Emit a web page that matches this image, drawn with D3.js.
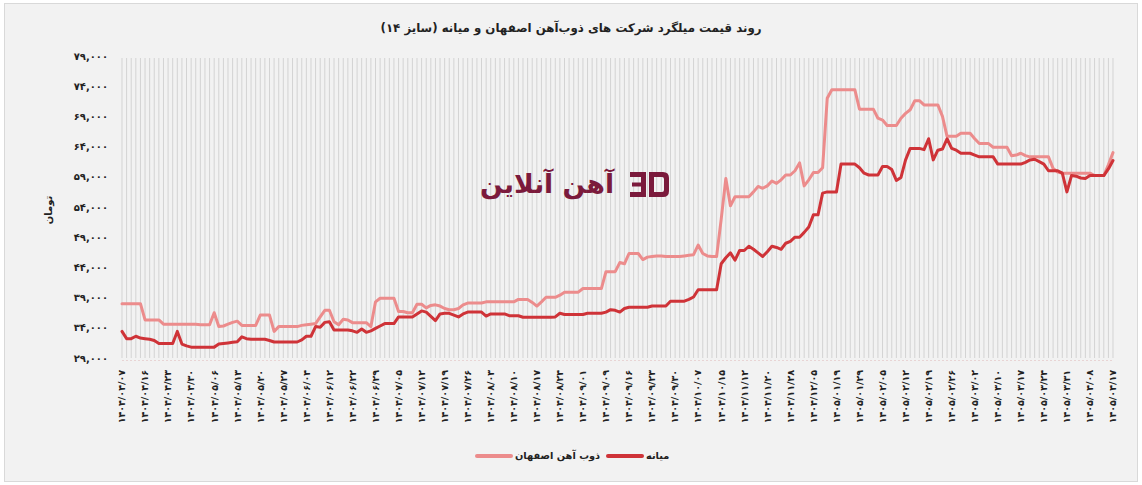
<!doctype html>
<html lang="fa">
<head>
	<meta charset="UTF-8">
	<title>روند قیمت میلگرد</title>
	<script src="https://d3js.org/d3.v7.min.js"></script>
	<style>
		body {
			margin: 0;
			padding: 0;
			background: #fff;
			font-family: "DejaVu Sans", sans-serif;
		}
	</style>
</head>
<body>
	<div id="chart"></div>

	<script>
		// Tick labels (every 5th category)
		const tickLabels = [
			'1404/04/07','1404/04/16','1404/04/23','1404/04/30','1404/05/06','1404/05/13','1404/05/20','1404/05/27',
			'1404/06/04','1404/06/12','1404/06/22','1404/06/29','1404/07/05','1404/07/12','1404/07/19','1404/07/26',
			'1404/08/03','1404/08/10','1404/08/17','1404/08/24','1404/09/01','1404/09/09','1404/09/16','1404/09/23',
			'1404/09/30','1404/10/07','1404/10/15','1404/11/12','1404/11/20','1404/11/28','1404/12/05','1405/01/19',
			'1405/01/29','1405/02/05','1405/02/12','1405/02/19','1405/02/26','1405/03/02','1405/03/10','1405/03/17',
			'1405/03/24','1405/03/31','1405/04/08','1405/04/17'
		];
		const tickStep = 5;

		// ذوب آهن اصفهان
		const esfahan = [
			38000,38000,38000,38000,38000,35300,35300,35300,35300,34600,
			34600,34600,34600,34600,34600,34600,34600,34500,34500,34500,
			36500,34200,34300,34600,34900,35100,34400,34400,34400,34400,
			36100,36100,36100,33400,34200,34200,34200,34200,34200,34400,
			34500,34600,34700,35800,36900,36900,35000,34500,35400,35300,
			34850,34850,34850,34850,34200,38300,38900,38900,38900,38900,
			36700,36700,36500,36500,37900,37900,37300,37700,37800,37600,
			37200,37000,37000,37200,37800,38100,38100,38100,38100,38300,
			38300,38300,38300,38300,38300,38300,38700,38700,38700,38200,
			37600,38300,39050,39050,39050,39400,39900,39900,39900,39900,
			40500,40500,40500,40500,40500,43300,43300,43300,44800,44600,
			46300,46300,46300,45300,45700,45800,45900,45900,45800,45800,
			45800,45800,45900,46000,46100,47700,46300,45900,45800,45800,
			52000,58700,54200,55700,55700,55700,55700,56500,57400,57100,
			57500,58300,57900,58500,59300,59300,60000,61300,57500,58500,
			59700,59700,60500,72000,73400,73400,73400,73400,73400,73400,
			70200,70200,70200,70200,68700,68400,67500,67500,67500,68700,
			69500,70100,71600,71600,70900,70900,70900,70900,69000,65700,
			65700,65700,66200,66200,66200,65300,64500,64500,64500,63900,
			63900,63900,63900,62500,62600,62900,62500,62300,62300,62300,
			62300,62300,60400,59800,59600,59600,59600,59600,59600,59600,
			59600,59200,59200,59200,61000,63000
		];

		// میانه
		const mianeh = [
			33400,32200,32200,32600,32300,32200,32100,31900,31400,31400,
			31400,31400,33400,31300,31000,30800,30800,30800,30800,30800,
			30800,31300,31400,31500,31600,31700,32500,32200,32100,32100,
			32100,32100,31900,31650,31650,31650,31650,31650,31650,32000,
			32600,32600,34200,34100,34900,35000,33650,33650,33650,33650,
			33500,33250,33800,33250,33500,33900,34300,34700,34700,34700,
			35800,35800,35800,35800,36300,36800,36600,35900,35200,36300,
			36400,36400,36100,35800,36300,36600,36600,36600,36600,35950,
			36300,36300,36300,36300,36000,36000,36000,35750,35750,35750,
			35750,35750,35750,35750,35800,36400,36200,36200,36200,36200,
			36200,36400,36400,36400,36400,36600,37000,36900,36600,37200,
			37400,37400,37400,37400,37400,37600,37600,37600,37600,38400,
			38400,38400,38400,38700,39100,40300,40300,40300,40300,40300,
			44600,45600,46400,45200,46800,46800,47500,47000,46400,45800,
			46600,47500,47300,47000,48000,48300,49000,49000,49800,50700,
			52700,52700,56300,56500,56500,56500,61100,61100,61100,61100,
			60500,59600,59300,59300,59300,60700,60700,60200,58400,58900,
			61800,63700,63700,63700,63500,65300,61800,63400,63600,65300,
			63700,63400,62900,62900,62900,62600,62300,62300,62300,62300,
			61100,61100,61100,61100,61100,61100,61400,61800,61900,61500,
			61100,60000,60000,60000,59600,56500,59200,59100,58800,58700,
			59200,59200,59200,59200,60300,61700
		];

		const yTicks = d3.range(29000, 79001, 5000);

		const seriesNames = ['ذوب آهن اصفهان', 'میانه'];
		const seriesColors = ['#ec8c8c', '#cf3338'];

		const width = 1142;
		const height = 485;

		// English digits -> Persian digits
		const faDigits = '۰۱۲۳۴۵۶۷۸۹';
		const toFa = (s) => String(s).replace(/[0-9]/g, (c) => faDigits[+c]);

		const svg = d3.select('#chart')
			.append('svg')
			.attr('width', width)
			.attr('height', height);

		// Background panel
		svg.append('rect')
			.attr('x', 4.5)
			.attr('y', 3.5)
			.attr('width', 1133)
			.attr('height', 478)
			.attr('fill', '#f2f2f2')
			.attr('stroke', '#d9d9d9');

		// Title
		svg.append('text')
			.attr('x', 571)
			.attr('y', 32)
			.attr('text-anchor', 'middle')
			.attr('direction', 'rtl')
			.attr('font-size', 11.8)
			.attr('font-weight', 'bold')
			.attr('fill', '#222')
			.text('روند قیمت میلگرد شرکت های ذوب‌آهن اصفهان و میانه (سایز ۱۴)');

		// Scales
		const x = d3.scaleLinear()
			.domain([0, esfahan.length - 1])
			.range([122, 1113]);

		const y = d3.scaleLinear()
			.domain([29000, 79000])
			.range([358, 56]);

		// Vertical gridlines, one per category
		svg.append('g')
			.selectAll('line')
			.data(d3.range(esfahan.length))
			.enter()
			.append('line')
			.attr('x1', (d) => x(d))
			.attr('x2', (d) => x(d))
			.attr('y1', y(79000) + 2)
			.attr('y2', y(29000))
			.attr('stroke', '#d3d3d3')
			.attr('stroke-width', 1);

		// Bottom axis line
		svg.append('line')
			.attr('x1', x(0))
			.attr('x2', x(esfahan.length - 1))
			.attr('y1', y(29000) + 2.5)
			.attr('y2', y(29000) + 2.5)
			.attr('stroke', '#e8d4d4')
			.attr('stroke-dasharray', '2,2');

		// Y tick labels
		svg.append('g')
			.selectAll('text')
			.data(yTicks)
			.enter()
			.append('text')
			.attr('x', 108)
			.attr('y', (d) => y(d))
			.attr('dy', '0.35em')
			.attr('text-anchor', 'end')
			.attr('font-size', 10)
			.attr('font-weight', 'bold')
			.attr('fill', '#222')
			.text((d) => toFa(d3.format(',')(d)));

		// Y axis title
		svg.append('text')
			.attr('transform', 'translate(52, 210) rotate(-90)')
			.attr('text-anchor', 'middle')
			.attr('font-size', 10)
			.attr('font-weight', 'bold')
			.attr('fill', '#222')
			.text('تومان');

		// X tick labels
		svg.append('g')
			.selectAll('text')
			.data(tickLabels)
			.enter()
			.append('text')
			.attr('transform', (d, i) => 'translate(' + x(i * tickStep) + ', 370) rotate(-90)')
			.attr('dy', '0.35em')
			.attr('text-anchor', 'end')
			.attr('font-size', 9.5)
			.attr('font-weight', 'bold')
			.attr('fill', '#222')
			.text((d) => toFa(d));

		// Watermark
		const wm = svg.append('g').attr('fill', '#7b1a3c');
		wm.append('text')
			.attr('x', 614)
			.attr('y', 193)
			.attr('text-anchor', 'start')
			.attr('direction', 'rtl')
			.attr('font-size', 26)
			.attr('font-weight', 'bold')
			.attr('textLength', 134)
			.attr('lengthAdjust', 'spacingAndGlyphs')
			.text('آهن آنلاین');
		wm.append('path')
			.attr('d', 'M630,172 h16 v25 h-16 v-5 h11 v-5.5 h-9 v-4 h9 v-5.5 h-11 z');
		wm.append('path')
			.attr('d', 'M649,172 h14 q6,0 6,6 v13 q0,6 -6,6 h-14 z M654,177 v15 h8 q2,0 2,-2 v-11 q0,-2 -2,-2 z')
			.attr('fill-rule', 'evenodd');

		// Lines
		const line = d3.line()
			.x((d, i) => x(i))
			.y((d) => y(d));

		[esfahan, mianeh].forEach((series, k) => {
			svg.append('path')
				.datum(series)
				.attr('d', line)
				.attr('fill', 'none')
				.attr('stroke', seriesColors[k])
				.attr('stroke-width', 3)
				.attr('stroke-linejoin', 'round')
				.attr('stroke-linecap', 'round');
		});

		// Legend
		const legendX = [477, 608];
		const legend = svg.append('g')
			.selectAll('g')
			.data(seriesNames)
			.enter()
			.append('g')
			.attr('transform', (d, i) => 'translate(' + legendX[i] + ', 456)');

		legend.append('line')
			.attr('x1', 0)
			.attr('x2', 34)
			.attr('stroke', (d, i) => seriesColors[i])
			.attr('stroke-width', 4)
			.attr('stroke-linecap', 'round');

		legend.append('text')
			.attr('x', 38)
			.attr('dy', '0.35em')
			.attr('direction', 'rtl')
			.attr('text-anchor', 'end')
			.attr('font-size', 9.8)
			.attr('font-weight', 'bold')
			.attr('fill', '#222')
			.text((d) => d);
	</script>
</body>
</html>
